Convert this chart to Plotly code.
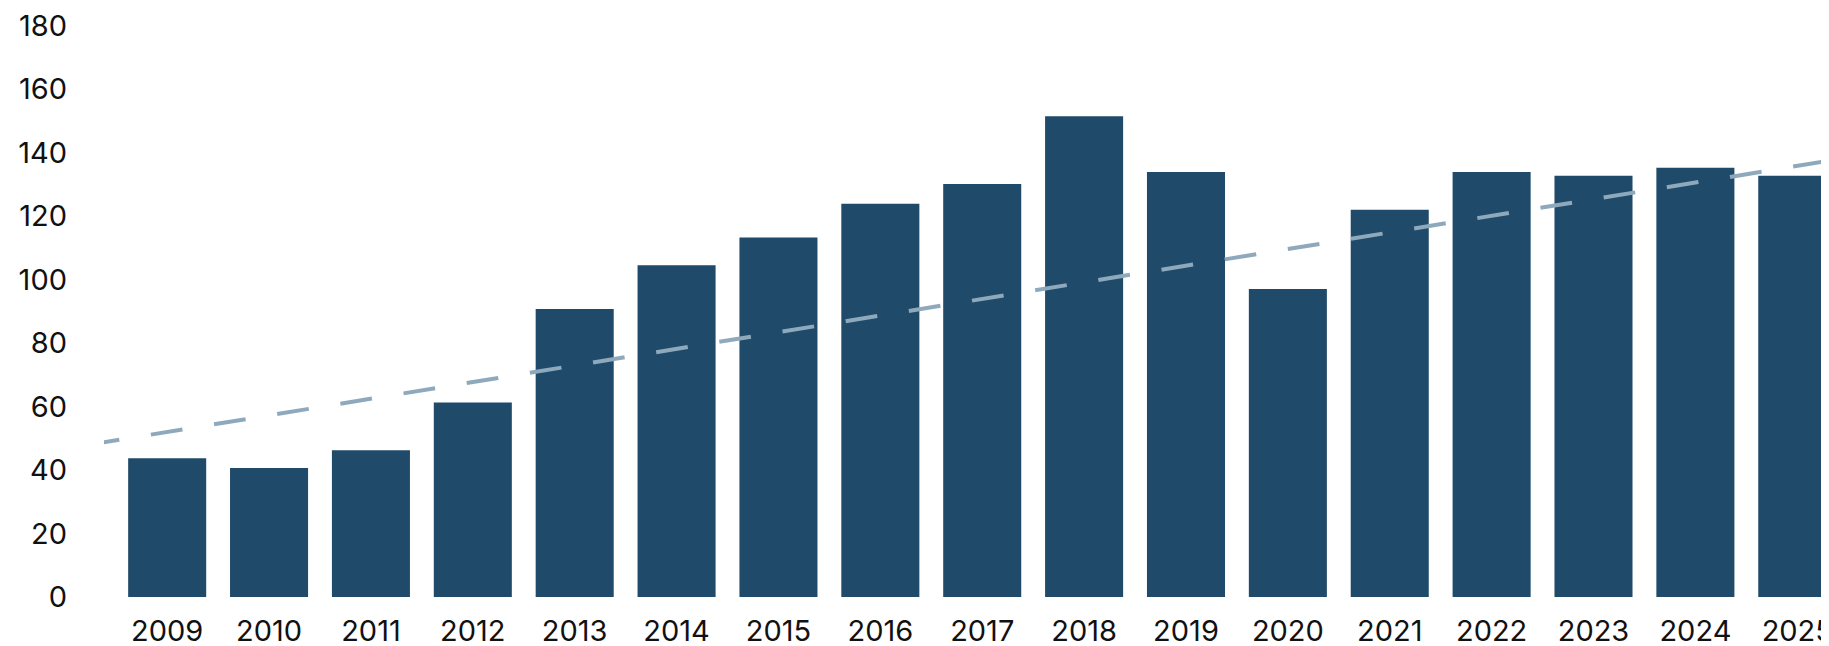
import plotly.graph_objects as go

years = list(range(2009, 2026))
values = [43.7, 40.6, 46.2, 61.3, 90.7, 104.5, 113.2, 123.9, 130.1,
          151.4, 133.9, 97.0, 122.0, 133.9, 132.7, 135.2, 132.7]

trend_years = [2008.22, 2025.5]
trend_values = [47.9, 138.4]

y_ticks = list(range(0, 181, 20))

bar_color = "#1f4a6a"
trend_color = "#8fa9bc"
font_name = "Inter"

fig = go.Figure()

fig.add_trace(go.Scatter(
    x=trend_years, y=trend_values, mode="lines",
    line=dict(color=trend_color, width=4, dash="32px,32px"),
    hoverinfo="skip", showlegend=False))

fig.add_trace(go.Bar(
    x=years, y=values, width=0.766,
    marker=dict(color=bar_color, line=dict(width=0)),
    showlegend=False))

fig.update_layout(
    width=1829, height=646,
    margin=dict(l=96, r=0, t=10, b=57),
    plot_bgcolor="white", paper_bgcolor="white",
    font=dict(family=font_name, size=29, color="#111111"),
    bargap=0.234)

fig.update_xaxes(
    range=[2008.38, 2025.39], tickmode="array", tickvals=years,
    ticktext=[str(y) for y in years], showgrid=False, zeroline=False,
    showline=False, ticks="", ticklabelstandoff=14,
    ticklabeloverflow="allow")

fig.update_yaxes(
    range=[0, 180.8], tickmode="array", tickvals=y_ticks,
    ticktext=[str(v) for v in y_ticks],
    showgrid=False, zeroline=False, showline=False, ticks="",
    ticklabelstandoff=36, ticklabeloverflow="allow")

fig.write_html("out.html")
